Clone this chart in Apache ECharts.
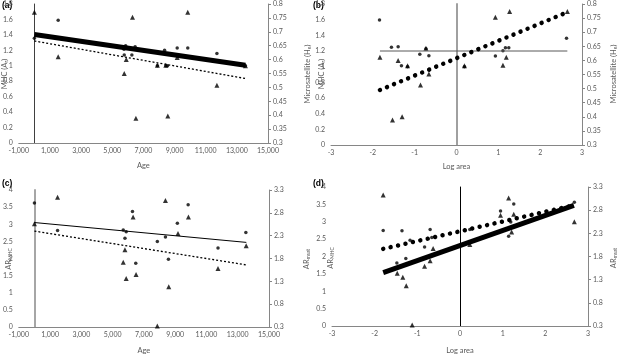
<!DOCTYPE html>
<html>
<head>
<meta charset="utf-8">
<script src="https://cdn.jsdelivr.net/npm/echarts@6/dist/echarts.min.js"></script>
<style>
  html, body { margin: 0; padding: 0; background: #fff; }
  #chart { width: 619px; height: 356px; }
</style>
</head>
<body>
<div id="chart"></div>
<script>
// (a) diversity vs age: MHC dots on left axis, microsatellite triangles on right axis
const aMhc = [[0, 1.355], [1530, 1.59], [5750, 1.215], [5770, 1.138], [5860, 1.26], [6260, 1.138], [6470, 1.245],
  [7900, 1.0], [8360, 1.2], [8450, 1.0], [8550, 1.0], [9170, 1.23], [9850, 1.23], [11720, 1.16], [13550, 1.0]]
const aMsat = [[0, 0.77], [1530, 0.61], [5770, 0.55], [5900, 0.6], [6300, 0.752], [6520, 0.389], [7900, 0.58],
  [8440, 0.58], [8570, 0.397], [9170, 0.608], [9850, 0.77], [11720, 0.508], [13550, 0.578]]
const aTrendMhc = [[0, 1.406], [13550, 1.008]]
const aTrendMsat = [[0, 0.667], [13550, 0.532]]

// (b) diversity vs log area
const bMhc = [[-1.84, 1.596], [-1.555, 1.247], [-1.395, 1.255], [-1.316, 1.012], [-1.17, 1.0], [-0.877, 1.158],
  [-0.73, 1.23], [-0.66, 1.14], [0.19, 1.0], [0.93, 1.136], [1.11, 1.204], [1.17, 1.242], [1.25, 1.242], [2.63, 1.362]]
const bMsat = [[-1.83, 0.611], [-1.53, 0.389], [-1.395, 0.6], [-1.3, 0.4], [-1.17, 0.581], [-0.86, 0.513],
  [-0.73, 0.643], [-0.66, 0.552], [0.19, 0.581], [0.93, 0.753], [1.11, 0.583], [1.19, 0.611], [1.27, 0.773], [2.65, 0.773]]
const bTrendMhc = [[-1.83, 1.2], [2.65, 1.2]]
const bTrendMsat = [[-1.83, 0.495], [2.65, 0.771]]

// (c) allelic richness vs age
const cMhc = [[0, 3.62], [1480, 2.82], [5680, 2.83], [5790, 2.59], [5870, 2.78], [6270, 3.37], [6480, 1.86],
  [7860, 2.5], [8380, 2.63], [8570, 1.98], [9140, 3.03], [9830, 3.57], [11740, 2.31], [13520, 2.76]]
const cMsat = [[0, 2.56], [1480, 3.14], [5680, 1.72], [5790, 1.99], [5870, 1.36], [6310, 2.71], [6500, 1.45],
  [7860, 0.32], [8380, 3.07], [8590, 1.18], [9180, 2.35], [9850, 2.71], [11740, 1.58], [13540, 2.08]]
const cTrendMhc = [[0, 3.05], [13550, 2.47]]
const cTrendMsat = [[0, 2.4], [13550, 1.66]]

// (d) allelic richness vs log area
const dMhc = [[-1.8, 2.75], [-1.48, 1.81], [-1.36, 2.74], [-1.27, 1.94], [-1.17, 2.47], [-0.83, 2.27], [-0.7, 2.78],
  [-0.66, 2.55], [0.23, 2.78], [0.95, 3.31], [1.14, 2.58], [1.19, 2.99], [1.26, 3.51], [2.68, 3.56]]
const dMsat = [[-1.8, 3.13], [-1.47, 1.44], [-1.34, 1.35], [-1.26, 1.17], [-1.12, 0.32], [-0.83, 1.59], [-0.7, 1.71],
  [-0.63, 1.97], [0.23, 2.06], [0.95, 2.69], [1.14, 3.06], [1.21, 2.33], [1.26, 2.71], [2.68, 2.55]]
const dTrendMhc = [[-1.8, 2.22], [2.65, 3.47]]
const dTrendMsat = [[-1.8, 1.45], [2.67, 2.905]]

const FONT = 'Lato, "Liberation Sans", sans-serif'
const TXT = '#595959'
const AXIS = '#868686'

const rich = { s: { fontFamily: FONT, fontSize: 5, fill: TXT, color: TXT, verticalAlign: 'bottom', padding: [3, 0, 0, 0] } }
const labelStyle = { fontFamily: FONT, fontSize: 7, color: TXT }

function xAx(grid, min, max, interval, name, gap) {
  return {
    type: 'value', gridIndex: grid, min, max, interval,
    axisLine: { onZero: false, lineStyle: { color: AXIS, width: 1 } },
    axisTick: { show: false },
    splitLine: { show: false },
    axisLabel: { ...labelStyle, margin: 4, showMinLabel: true, showMaxLabel: true },
    name, nameLocation: 'middle', nameGap: gap,
    nameTextStyle: { fontFamily: FONT, fontSize: 7.5, color: TXT }
  }
}

function yLeft(grid, min, max, interval, line) {
  return {
    type: 'value', gridIndex: grid, position: 'left', min, max, interval,
    axisLine: { show: true, onZero: true, lineStyle: line },
    axisTick: { show: false },
    splitLine: { show: false },
    axisLabel: { ...labelStyle, margin: 6 }
  }
}

function yRight(grid, min, max, interval) {
  return {
    type: 'value', gridIndex: grid, position: 'right', min, max, interval,
    axisLine: { show: true, onZero: false, lineStyle: { color: AXIS, width: 1 } },
    axisTick: { show: true, length: 3, lineStyle: { color: AXIS } },
    splitLine: { show: false },
    axisLabel: { ...labelStyle, margin: 5 }
  }
}

// rotated y-axis titles (read bottom to top)
function yTitle(text, x, y) {
  return {
    type: 'text', x, y, rotation: Math.PI / 2, silent: true,
    style: { text, x: 0, y: 0, align: 'center', verticalAlign: 'middle',
      fontFamily: FONT, fontSize: 7.5, fill: TXT, rich }
  }
}
function panelTag(text, left, top) {
  return { type: 'text', left, top, silent: true,
    style: { text, font: 'bold 8.5px "Liberation Sans"', fill: '#000' } }
}

function dots(data, x, y) {
  return { type: 'scatter', xAxisIndex: x, yAxisIndex: y, data, symbol: 'circle', symbolSize: 3.5,
    itemStyle: { color: '#000' }, silent: true }
}
function tris(data, x, y) {
  return { type: 'scatter', xAxisIndex: x, yAxisIndex: y, data, symbol: 'triangle', symbolSize: 5,
    itemStyle: { color: '#000' }, silent: true }
}
function trend(data, x, y, lineStyle) {
  return { type: 'line', xAxisIndex: x, yAxisIndex: y, data, showSymbol: false, symbol: 'none',
    lineStyle: { color: '#000', ...lineStyle }, silent: true, z: 3 }
}

const thick = { width: 5 }
const dotted = { width: 1.3, type: [2, 2] }
const bigDots = { width: 4.5, type: [0.01, 7.6], cap: 'round' }

const chart = echarts.init(document.getElementById('chart'))
chart.setOption({
  animation: false,
  backgroundColor: '#fff',
  grid: [
    { left: 17, top: 4, width: 251, height: 139 },
    { left: 331, top: 4, width: 251, height: 141 },
    { left: 15, top: 190, width: 254, height: 139 },
    { left: 332, top: 187, width: 256, height: 142 }
  ],
  xAxis: [
    xAx(0, -1000, 15000, 2000, 'Age', 19),
    xAx(1, -3, 3, 1, 'Log area', 18),
    xAx(2, -1000, 15000, 2000, 'Age', 20),
    xAx(3, -3, 3, 1, 'Log area', 21)
  ],
  yAxis: [
    yLeft(0, 0, 1.8, 0.2, { color: '#404040', width: 1 }),
    yRight(0, 0.3, 0.8, 0.05),
    yLeft(1, 0, 1.8, 0.2, { color: '#a0a0a0', width: 2 }),
    yRight(1, 0.3, 0.8, 0.05),
    yLeft(2, 0, 4, 0.5, { color: '#a6a6a6', width: 2 }),
    yRight(2, 0.3, 3.3, 0.5),
    yLeft(3, 0, 4, 0.5, { color: '#000', width: 1 }),
    yRight(3, 0.3, 3.3, 0.5)
  ],
  graphic: [
    panelTag('(a)', 2, 1), panelTag('(b)', 313, 1), panelTag('(c)', 2, 179), panelTag('(d)', 313, 179),
    yTitle('MHC (A{s|r})', 5, 74),
    yTitle('Microsatellite (H{s|e})', 308, 74),
    yTitle('MHC (A{s|r})', 322, 74),
    yTitle('Microsatellite (H{s|e})', 614, 74),
    yTitle('AR{s|MHC}', 9, 259),
    yTitle('AR{s|msat}', 307, 259),
    yTitle('AR{s|MHC}', 331, 258),
    yTitle('AR{s|msat}', 614, 258)
  ],
  series: [
    dots(aMhc, 0, 0), tris(aMsat, 0, 1),
    trend(aTrendMhc, 0, 0, thick), trend(aTrendMsat, 0, 1, dotted),

    dots(bMhc, 1, 2), tris(bMsat, 1, 3),
    trend(bTrendMhc, 1, 2, { width: 1, color: '#595959' }), trend(bTrendMsat, 1, 3, bigDots),

    dots(cMhc, 2, 4), tris(cMsat, 2, 5),
    trend(cTrendMhc, 2, 4, { width: 1 }), trend(cTrendMsat, 2, 5, dotted),

    dots(dMhc, 3, 6), tris(dMsat, 3, 7),
    trend(dTrendMhc, 3, 6, bigDots), trend(dTrendMsat, 3, 7, thick)
  ]
})
</script>
</body>
</html>
